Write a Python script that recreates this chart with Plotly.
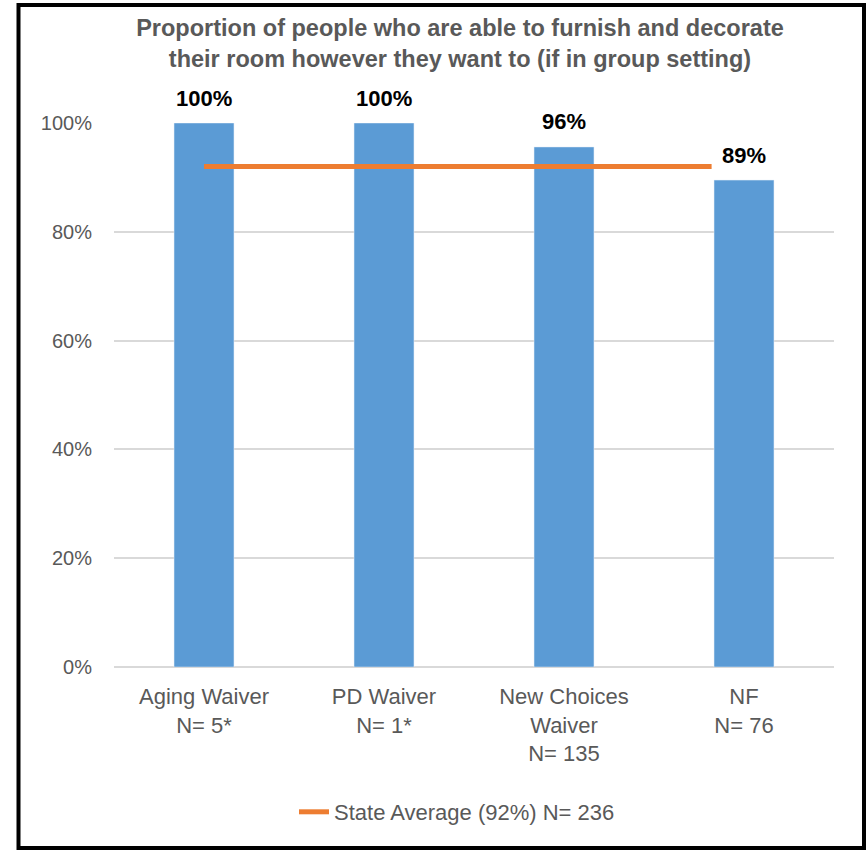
import plotly.graph_objects as go

categories = ["Aging Waiver<br>N= 5*", "PD Waiver<br>N= 1*", "New Choices<br>Waiver<br>N= 135", "NF<br>N= 76"]
values = [100, 100, 95.6, 89.5]
value_labels = ["100%", "100%", "96%", "89%"]
state_avg = 92
state_avg_name = "State Average (92%) N= 236"
avg_span = [0, 2.82]  # category positions the state-average line spans
y_ticks = [0, 20, 40, 60, 80, 100]
y_tick_labels = ["0%", "20%", "40%", "60%", "80%", "100%"]

FONT = "Liberation Sans, Arial, sans-serif"
GRAY = "#595959"

W, H = 867, 850
L, R, T, B = 114, 33, 123, 183
pw, ph = W - L - R, H - T - B

def px2x(p):
    return (p - L) / pw

def px2y(p):
    return (H - B - p) / ph

xs = list(range(len(categories)))

fig = go.Figure()
fig.add_trace(go.Bar(
    x=xs, y=values,
    marker_color="#5B9BD5", width=0.333,
    showlegend=False, hoverinfo="skip",
))
fig.add_trace(go.Scatter(
    x=avg_span, y=[state_avg, state_avg], mode="lines",
    line=dict(color="#ED7D31", width=5), name=state_avg_name, showlegend=True,
))

annotations = [
    dict(x=x, y=v, xref="x", yref="y", text="<b>%s</b>" % t, showarrow=False,
         yanchor="middle", yshift=25, bgcolor="white",
         font=dict(size=22, color="#000000", family=FONT))
    for x, v, t in zip(xs, values, value_labels)
]

fig.update_layout(
    width=W, height=H,
    margin=dict(l=L, r=R, t=T, b=B),
    paper_bgcolor="white", plot_bgcolor="white",
    font=dict(family=FONT, color=GRAY, size=20),
    title=dict(
        text="<b>Proportion of people who are able to furnish and decorate<br>their room however they want to (if in group setting)</b>",
        x=460 / W, xanchor="center", y=1 - 36 / H, yanchor="middle",
        font=dict(size=23.5, color=GRAY, family=FONT),
    ),
    xaxis=dict(
        range=[-0.5, 3.5], tickmode="array", tickvals=xs,
        ticktext=categories, showgrid=False, zeroline=False, showline=False,
        tickfont=dict(size=22, color=GRAY), ticks="", ticklabelstandoff=14,
    ),
    yaxis=dict(
        range=[0, 100], tickvals=y_ticks, ticktext=y_tick_labels,
        showgrid=True, gridcolor="#D9D9D9", gridwidth=1.5,
        zeroline=True, zerolinecolor="#D9D9D9", zerolinewidth=1.5,
        tickfont=dict(size=20, color=GRAY), ticks="", ticklabelstandoff=21,
    ),
    legend=dict(
        orientation="h", x=px2x(294), xanchor="left", y=px2y(812), yanchor="middle",
        font=dict(size=22, color=GRAY), bgcolor="rgba(0,0,0,0)",
    ),
    annotations=annotations,
    shapes=[dict(
        type="rect", xref="paper", yref="paper",
        x0=px2x(18.5), x1=px2x(864), y0=px2y(848), y1=px2y(5),
        line=dict(color="black", width=4), fillcolor="rgba(0,0,0,0)",
    )],
    bargap=0.667,
)

fig.write_html("out.html", config={"displayModeBar": False},
               post_script="document.body.style.margin='0';")
